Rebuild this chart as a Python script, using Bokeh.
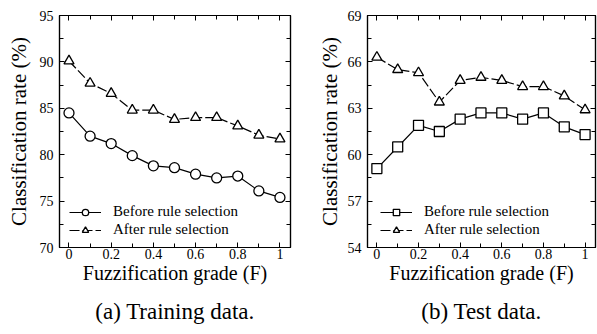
from bokeh.plotting import figure
from bokeh.models import FixedTicker, LinearAxis, Legend, LegendItem, Title, Range1d
from bokeh.layouts import row
from bokeh.embed import file_html
from bokeh.resources import INLINE

# ---- data ----
F = [0.0, 0.1, 0.2, 0.3, 0.4, 0.5, 0.6, 0.7, 0.8, 0.9, 1.0]
train_before = [84.5, 82.0, 81.2, 79.9, 78.8, 78.6, 77.9, 77.5, 77.7, 76.1, 75.4]
train_after = [90.1, 87.7, 86.6, 84.8, 84.8, 83.8, 84.0, 84.0, 83.1, 82.1, 81.7]
test_before = [59.1, 60.5, 61.9, 61.5, 62.3, 62.7, 62.7, 62.3, 62.7, 61.8, 61.3]
test_after = [66.3, 65.5, 65.3, 63.4, 64.8, 65.0, 64.8, 64.4, 64.4, 63.8, 62.9]

x_ticks = [0, 0.2, 0.4, 0.6, 0.8, 1]
x_tick_labels = ["0", "0.2", "0.4", "0.6", "0.8", "1"]
train_y_ticks = [70, 75, 80, 85, 90, 95]
test_y_ticks = [54, 57, 60, 63, 66, 69]

series_labels = ["Before rule selection", "After rule selection"]
x_label = "Fuzzification grade (F)"
y_label = "Classification rate (%)"
captions = ["(a) Training data.", "(b) Test data."]

SERIF = "'Liberation Serif', 'DejaVu Serif', serif"


def mids(t):
    return [(a + b) / 2 for a, b in zip(t[:-1], t[1:])]


def make_panel(before, after, yticks, before_marker, caption, width,
               mbl, mbr, y_standoff, leg_x):
    p = figure(width=width, height=334, output_backend="svg", toolbar_location=None,
               x_range=Range1d(-0.045, 1.05), y_range=Range1d(yticks[0], yticks[-1]),
               min_border_left=mbl, min_border_right=mbr, min_border_top=15,
               min_border_bottom=87)
    p.xgrid.visible = False
    p.ygrid.visible = False
    p.outline_line_color = "black"
    p.outline_line_width = 1.2
    p.background_fill_color = "white"
    p.border_fill_color = "white"

    xa = p.below[0]
    ya = p.left[0]

    xt = FixedTicker(ticks=x_ticks, minor_ticks=mids(x_ticks))
    yt = FixedTicker(ticks=yticks, minor_ticks=mids(yticks))

    top = LinearAxis()
    right = LinearAxis()
    p.add_layout(top, "above")
    p.add_layout(right, "right")

    xa.ticker = xt
    top.ticker = xt
    ya.ticker = yt
    right.ticker = yt

    for ax in (xa, top, ya, right):
        ax.axis_line_color = "black"
        ax.axis_line_width = 1.2
        ax.major_tick_line_color = "black"
        ax.minor_tick_line_color = "black"
        ax.major_tick_in = 5
        ax.major_tick_out = 0
        ax.minor_tick_in = 4
        ax.minor_tick_out = 0
        ax.major_label_text_color = "black"
        ax.major_label_text_font = SERIF
        ax.major_label_text_font_size = "14px"

    for ax in (top, right):
        ax.major_label_text_font_size = "0px"
        ax.major_label_text_alpha = 0
        ax.major_label_standoff = 0

    xa.major_label_overrides = {t: s for t, s in zip(x_ticks, x_tick_labels)}
    xa.major_label_standoff = 1
    xa.axis_label = x_label
    xa.axis_label_text_font = SERIF
    xa.axis_label_text_font_size = "20px"
    xa.axis_label_text_font_style = "normal"
    xa.axis_label_text_color = "black"
    xa.axis_label_standoff = 0

    ya.major_label_standoff = 6
    ya.axis_label = y_label
    ya.axis_label_text_font = SERIF
    ya.axis_label_text_font_size = "21px"
    ya.axis_label_text_font_style = "normal"
    ya.axis_label_text_color = "black"
    ya.axis_label_standoff = y_standoff

    cap = Title(text=caption, align="center", text_font=SERIF,
                text_font_size="23px", text_font_style="normal", text_color="black",
                standoff=20)
    p.add_layout(cap, "below")

    l1 = p.line(F, before, line_color="black", line_width=1.2)
    s1 = p.scatter(F, before, marker=before_marker, size=10, fill_color="white",
                   line_color="black", line_width=1.3)
    l2 = p.line(F, after, line_color="black", line_width=1.2, line_dash="10 3")
    s2 = p.scatter(F, after, marker="triangle", size=10, fill_color="white",
                   line_color="black", line_width=1.3)

    legend = Legend(items=[LegendItem(label=series_labels[0], renderers=[l1, s1]),
                           LegendItem(label=series_labels[1], renderers=[l2, s2])],
                    location=(leg_x, 9), border_line_color=None,
                    background_fill_alpha=0, label_text_font=SERIF,
                    label_text_font_size="15px", label_text_color="black",
                    glyph_width=32, glyph_height=16, label_height=16,
                    spacing=1, padding=0, margin=0, label_standoff=12)
    p.add_layout(legend)
    return p


p1 = make_panel(train_before, train_after, train_y_ticks, "circle", captions[0],
                304, 59, 14, 6, 10)
p2 = make_panel(test_before, test_after, test_y_ticks, "square", captions[1],
                293, 63, 2, 3, 13)

layout = row(p1, p2)
open("out.html", "w").write(file_html(layout, INLINE))
